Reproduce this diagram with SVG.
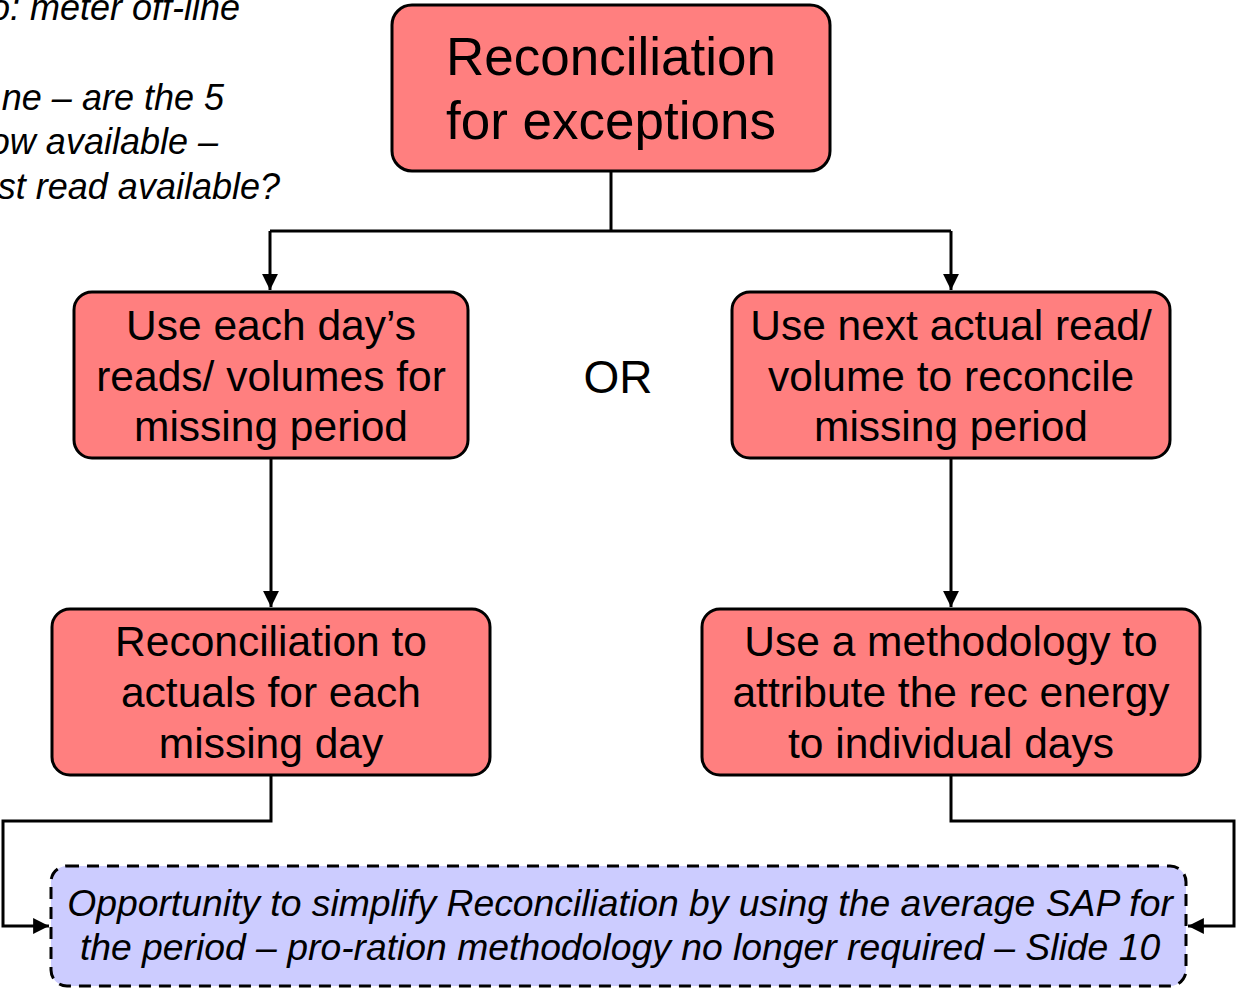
<svg xmlns="http://www.w3.org/2000/svg" width="1236" height="989" viewBox="0 0 1236 989">
<defs>
<style>
.box{fill:#ff7f7f;stroke:#000;stroke-width:3}
.note{fill:#ccccff;stroke:#000;stroke-width:3;stroke-dasharray:12 8}
.t{font-family:"Liberation Sans",Arial,Helvetica,sans-serif;fill:#000;text-anchor:middle}
.it{font-family:"Liberation Sans",Arial,Helvetica,sans-serif;font-style:italic;fill:#000}
.c{fill:none;stroke:#000;stroke-width:3}
</style>
<marker id="ah" viewBox="0 0 10 10" refX="10" refY="5" markerWidth="5.3" markerHeight="5.3" markerUnits="strokeWidth" orient="auto">
<path d="M0,0 L10,5 L0,10 Z" fill="#000"/>
</marker>
</defs>
<rect width="1236" height="989" fill="#fff"/>
<g id="side-note" class="it" font-size="36" text-anchor="end">
<text x="240" y="20">o: meter off-line</text>
<text x="224" y="110">ne – are the 5</text>
<text x="218" y="154">ow available –</text>
<text x="280" y="199">st read available?</text>
</g>
<g id="connectors">
<path class="c" d="M611,171 V231"/>
<path class="c" d="M270,231 H951"/>
<path class="c" d="M270,231 V290" marker-end="url(#ah)"/>
<path class="c" d="M951,231 V290" marker-end="url(#ah)"/>
<path class="c" d="M271,458 V607" marker-end="url(#ah)"/>
<path class="c" d="M951,458 V607" marker-end="url(#ah)"/>
<path class="c" d="M271,775 V821 H3 V926 H49" marker-end="url(#ah)"/>
<path class="c" d="M951,775 V821 H1234 V926 H1188" marker-end="url(#ah)"/>
</g>
<g id="top">
<rect class="box" x="392" y="5" width="438" height="166" rx="20"/>
<text class="t" font-size="53" x="611" y="75">Reconciliation</text>
<text class="t" font-size="53" x="611" y="139">for exceptions</text>
</g>
<g id="or">
<text class="t" font-size="46" x="618" y="393">OR</text>
</g>
<g id="left-mid">
<rect class="box" x="74" y="292" width="394" height="166" rx="18"/>
<text class="t" font-size="42.5" x="271" y="340">Use each day’s</text>
<text class="t" font-size="42.5" x="271" y="391">reads/ volumes for</text>
<text class="t" font-size="42.5" x="271" y="441">missing period</text>
</g>
<g id="right-mid">
<rect class="box" x="732" y="292" width="438" height="166" rx="18"/>
<text class="t" font-size="42.5" x="951" y="340">Use next actual read/</text>
<text class="t" font-size="42.5" x="951" y="391">volume to reconcile</text>
<text class="t" font-size="42.5" x="951" y="441">missing period</text>
</g>
<g id="left-bottom">
<rect class="box" x="52" y="609" width="438" height="166" rx="18"/>
<text class="t" font-size="42.5" x="271" y="656">Reconciliation to</text>
<text class="t" font-size="42.5" x="271" y="707">actuals for each</text>
<text class="t" font-size="42.5" x="271" y="758">missing day</text>
</g>
<g id="right-bottom">
<rect class="box" x="702" y="609" width="498" height="166" rx="18"/>
<text class="t" font-size="42.5" x="951" y="656">Use a methodology to</text>
<text class="t" font-size="42.5" x="951" y="707">attribute the rec energy</text>
<text class="t" font-size="42.5" x="951" y="758">to individual days</text>
</g>
<g id="opportunity">
<rect class="note" x="51" y="866" width="1135" height="120" rx="16"/>
<text class="it" font-size="37.3" text-anchor="middle" x="620" y="916">Opportunity to simplify Reconciliation by using the average SAP for</text>
<text class="it" font-size="37.3" text-anchor="middle" x="620" y="960">the period – pro-ration methodology no longer required – Slide 10</text>
</g>
</svg>
